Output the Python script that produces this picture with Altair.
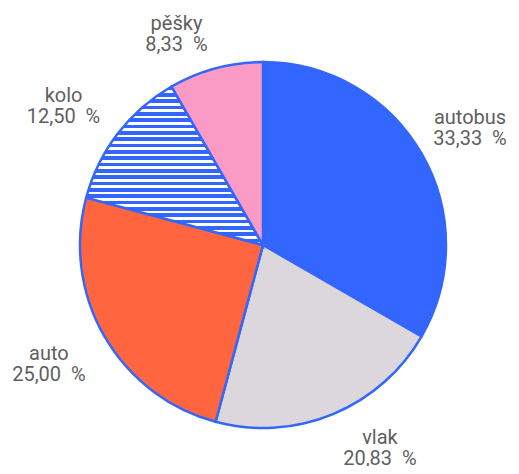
import altair as alt
import pandas as pd

categories = ["autobus", "vlak", "auto", "kolo", "pěšky"]
counts = [8, 5, 6, 3, 2]
colors = ["#3366ff", "#dcd7dc", "#ff6640", "#ffffff", "#f99bc4"]

total = sum(counts)
percents = [f"{c / total * 100:.2f}".replace(".", ",") + "\u00a0\u00a0%" for c in counts]
labels = [f"{n}\n{p}" for n, p in zip(categories, percents)]

df = pd.DataFrame({
    "cat": categories,
    "count": counts,
    "idx": list(range(len(categories))),
    "pct": percents,
    "label": labels,
})

# horizontal blue/white stripes for the hatched slice
n_stripes = 25
stops = []
for i in range(n_stripes):
    a = i / n_stripes
    b = (i + 0.58) / n_stripes
    c = (i + 1) / n_stripes
    stops += [
        {"color": "#3366ff", "offset": a},
        {"color": "#3366ff", "offset": b},
        {"color": "#ffffff", "offset": b},
        {"color": "#ffffff", "offset": c},
    ]
stripes = {"gradient": "linear", "x1": 0, "y1": 0, "x2": 0, "y2": 1, "stops": stops}

W, H = 503, 458
cx, cy = 255, 237
R = 201        # distance of label box corner from centre
LH = 21        # line height
ASC = 14.5     # ascender height of first line

arcs = alt.Chart(df).mark_arc(outerRadius=183, stroke="#3366ff", strokeWidth=2.5).encode(
    theta=alt.Theta("count:Q", stack=True),
    order=alt.Order("idx:Q"),
    x=alt.value(cx),
    y=alt.value(cy),
    fill=alt.condition(
        alt.datum.cat == "kolo",
        alt.value(stripes),
        alt.Fill("cat:N", scale=alt.Scale(domain=categories, range=colors), legend=None),
    ),
)

texts = alt.Chart(df).transform_joinaggregate(
    total="sum(count)"
).transform_window(
    cum="sum(count)", sort=[alt.SortField("idx")], frame=[None, 0]
).transform_calculate(
    mid="(datum.cum - datum.count / 2) / datum.total * 2 * PI",
    w="11 * length(datum.pct) - 8",
).transform_calculate(
    px=f"{cx} + {R} * sin(datum.mid)",
    py=f"{cy} - {R} * cos(datum.mid)",
).transform_calculate(
    lx=f"min({W - 1} - datum.w / 2, datum.px + (sin(datum.mid) >= 0 ? 1 : -1) * datum.w / 2)",
    ly=f"min({H - 1 - LH}, cos(datum.mid) >= 0 ? datum.py - {LH} : datum.py + {ASC})",
).mark_text(
    font="Roboto",
    fontSize=20,
    fill="#5f5f5f",
    lineBreak="\n",
    lineHeight=LH,
    align="center",
    baseline="alphabetic",
).encode(
    x=alt.X("lx:Q", scale=None),
    y=alt.Y("ly:Q", scale=None),
    text="label:N",
)

chart = alt.layer(arcs, texts).properties(
    width=W,
    height=H,
    autosize=alt.AutoSizeParams(type="none"),
    padding=0,
).configure_view(stroke=None)

chart.save("out.html", embed_options={"renderer": "svg", "actions": False})
